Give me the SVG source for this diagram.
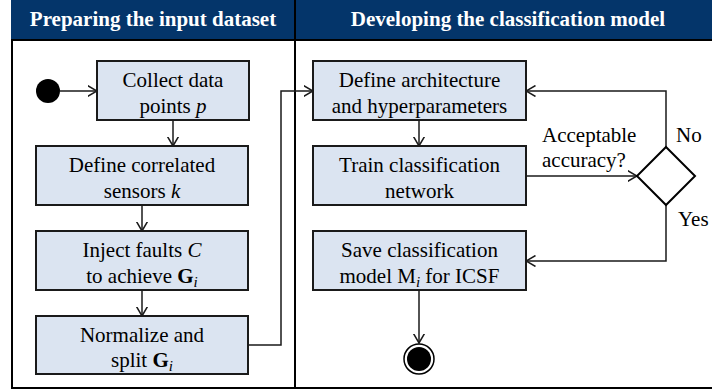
<svg xmlns="http://www.w3.org/2000/svg" width="712" height="392" viewBox="0 0 712 392">
<style>
text{font-family:"Liberation Serif","Times New Roman",serif;font-size:21px;fill:#000}
.hd{font-weight:bold;fill:#fff;text-anchor:middle}
.c{text-anchor:middle}
.box{fill:#dbe4f1;stroke:#1a1a1a;stroke-width:2}
.ln{fill:none;stroke:#1a1a1a;stroke-width:1.5}
.sub{font-size:15px;font-style:italic}
</style>
<defs>
<marker id="ah" viewBox="0 0 10 12" markerWidth="10" markerHeight="12" refX="9.5" refY="6" orient="auto" markerUnits="userSpaceOnUse">
<path d="M0,0.5 L9.5,6 L0,11.5" fill="none" stroke="#1a1a1a" stroke-width="1.5"/>
</marker>
</defs>
<g id="frame">
<rect x="11" y="0" width="701" height="40" fill="#04356a"/>
<line x1="11" y1="40" x2="712" y2="40" stroke="#000" stroke-width="2"/>
<line x1="12" y1="40" x2="12" y2="388" stroke="#000" stroke-width="2"/>
<line x1="11" y1="388" x2="712" y2="388" stroke="#000" stroke-width="2"/>
<line x1="295" y1="0" x2="295" y2="388" stroke="#000" stroke-width="2"/>
<text class="hd" x="153" y="26">Preparing the input dataset</text>
<text class="hd" x="508" y="26">Developing the classification model</text>
</g>
<g id="connectors">
<line class="ln" x1="60" y1="91" x2="97" y2="91" marker-end="url(#ah)"/>
<line class="ln" x1="173" y1="120" x2="173" y2="146" marker-end="url(#ah)"/>
<line class="ln" x1="142" y1="205" x2="142" y2="231" marker-end="url(#ah)"/>
<line class="ln" x1="142" y1="290" x2="142" y2="316" marker-end="url(#ah)"/>
<polyline class="ln" points="248,345 281,345 281,91 313,91" marker-end="url(#ah)"/>
<line class="ln" x1="419" y1="120" x2="419" y2="146" marker-end="url(#ah)"/>
<line class="ln" x1="526" y1="176" x2="637" y2="176" marker-end="url(#ah)"/>
<polyline class="ln" points="666,147 666,91 526,91" marker-end="url(#ah)"/>
<polyline class="ln" points="666,205 666,261 526,261" marker-end="url(#ah)"/>
<line class="ln" x1="419" y1="290" x2="419" y2="343" marker-end="url(#ah)"/>
<text x="542" y="142">Acceptable</text>
<text x="542" y="167">accuracy?</text>
<text x="676" y="142">No</text>
<text x="678" y="226">Yes</text>
</g>
<g id="start"><circle cx="48" cy="91" r="12" fill="#000"/></g>
<g id="collect">
<rect class="box" x="97" y="61" width="152" height="59"/>
<text class="c" x="173" y="87">Collect data</text>
<text class="c" x="173" y="113">points <tspan font-style="italic">p</tspan></text>
</g>
<g id="sensors">
<rect class="box" x="36" y="146" width="212" height="59"/>
<text class="c" x="142" y="172">Define correlated</text>
<text class="c" x="142" y="198">sensors <tspan font-style="italic">k</tspan></text>
</g>
<g id="inject">
<rect class="box" x="36" y="231" width="212" height="59"/>
<text class="c" x="142" y="257">Inject faults <tspan font-style="italic">C</tspan></text>
<text class="c" x="142" y="283">to achieve <tspan font-weight="bold">G</tspan><tspan class="sub" dy="4">i</tspan></text>
</g>
<g id="normalize">
<rect class="box" x="36" y="316" width="212" height="58"/>
<text class="c" x="142" y="342">Normalize and</text>
<text class="c" x="142" y="367">split <tspan font-weight="bold">G</tspan><tspan class="sub" dy="4">i</tspan></text>
</g>
<g id="define">
<rect class="box" x="313" y="61" width="213" height="59"/>
<text class="c" x="419.5" y="87">Define architecture</text>
<text class="c" x="419.5" y="113">and hyperparameters</text>
</g>
<g id="train">
<rect class="box" x="313" y="146" width="213" height="59"/>
<text class="c" x="419.5" y="172">Train classification</text>
<text class="c" x="419.5" y="198">network</text>
</g>
<g id="decision">
<polygon points="666,147 695,176 666,205 637,176" fill="#fff" stroke="#000" stroke-width="2"/>
</g>
<g id="save">
<rect class="box" x="313" y="231" width="213" height="59"/>
<text class="c" x="419.5" y="257">Save classification</text>
<text class="c" x="419.5" y="283">model M<tspan class="sub" dy="4">i</tspan><tspan dy="-4"> for ICSF</tspan></text>
</g>
<g id="end">
<circle cx="419" cy="359" r="15" fill="#fff" stroke="#000" stroke-width="1.5"/>
<circle cx="419" cy="359" r="12" fill="#000"/>
</g>
</svg>
